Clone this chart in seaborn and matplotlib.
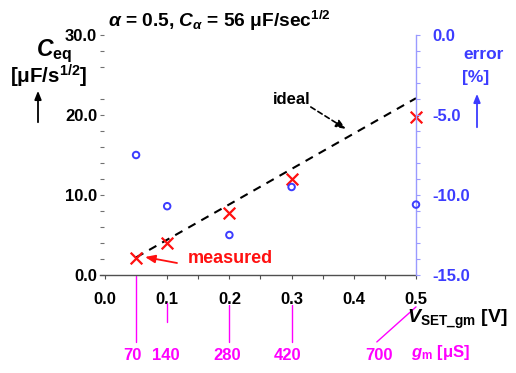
import matplotlib
matplotlib.use("Agg")
import matplotlib.pyplot as plt
import matplotlib.transforms as mtransforms
from matplotlib.ticker import FixedLocator, FixedFormatter
import pandas as pd
import seaborn as sns

# Operating points: SET voltage of the gm stage and resulting transconductance
v_set = [0.05, 0.1, 0.2, 0.3, 0.5]
gm_labels = ["70", "140", "280", "420", "700"]
# Measured equivalent fractional capacitance [uF/s^1/2]
ceq_measured = [2.1, 4.0, 7.7, 12.0, 19.7]
# Relative error of the measurement [%]
error_pct = [-7.5, -10.7, -12.5, -9.5, -10.6]
# Ideal (designed) characteristic
ideal_v = [0.05, 0.5]
ideal_ceq = [2.2, 22.1]

ceq_ticks = [0, 10, 20, 30]
error_ticks = [-15, -10, -5, 0]
v_ticks = [0.0, 0.1, 0.2, 0.3, 0.4, 0.5]

sns.set_theme(style="white")
plt.rcParams["font.family"] = ["Liberation Sans", "DejaVu Sans"]
plt.rcParams["font.weight"] = "bold"
plt.rcParams["mathtext.fontset"] = "custom"
plt.rcParams["mathtext.rm"] = "Liberation Sans:bold"
plt.rcParams["mathtext.bf"] = "Liberation Sans:bold"
plt.rcParams["mathtext.it"] = "Liberation Sans:bold:italic"
plt.rcParams["mathtext.sf"] = "Liberation Sans:bold"

W, H = 516, 373
BLUE = "#3c3cff"
LBLUE = "#9a9aff"
RED = "#ff1010"
MAG = "#ff00ff"

fig = plt.figure(figsize=(W / 100, H / 100), dpi=100)
ax = fig.add_axes([100 / W, 98 / H, 316 / W, 240 / H])
ax2 = ax.twinx()


def px(x, y):
    return x / W, 1 - y / H


meas = pd.DataFrame({"v": v_set, "ceq": ceq_measured, "err": error_pct})
ideal = pd.DataFrame({"v": ideal_v, "ceq": ideal_ceq})

sns.lineplot(data=ideal, x="v", y="ceq", ax=ax, color="black", lw=1.5,
             linestyle=(0, (4, 3.2)), zorder=2)
sns.scatterplot(data=meas, x="v", y="ceq", ax=ax, marker="x", s=70,
                color=RED, linewidth=1.6, zorder=3, clip_on=False)
sns.scatterplot(data=meas, x="v", y="err", ax=ax2, marker="o", s=22,
                facecolor="none", edgecolor=BLUE, linewidth=1.4, zorder=3,
                clip_on=False)

# Left axis (C_eq)
ax.set_xlim(-0.008, 0.5)
ax.set_ylim(0, 30)
for s in ("left", "top", "right"):
    ax.spines[s].set_visible(False)
ax.spines["bottom"].set_color("#505050")
ax.spines["bottom"].set_linewidth(1.0)
ax.yaxis.set_major_locator(FixedLocator(ceq_ticks))
ax.yaxis.set_major_formatter(FixedFormatter([f"{t:.1f}" for t in ceq_ticks]))
ax.yaxis.set_minor_locator(FixedLocator([2, 4, 6, 8, 12, 14, 16, 18, 22, 26, 28]))
ax.tick_params(axis="y", which="both", direction="in", length=3, width=0.8,
               color="#707070", left=True, labelsize=12, pad=2,
               labelcolor="black")
ax.xaxis.set_major_locator(FixedLocator(v_ticks))
ax.xaxis.set_major_formatter(FixedFormatter([f"{t:.1f}" for t in v_ticks]))
ax.xaxis.set_minor_locator(FixedLocator([0.15, 0.25, 0.35, 0.45]))
ax.tick_params(axis="x", which="both", direction="out", length=3, width=0.8,
               color="#505050", bottom=True, labelsize=12, pad=9,
               labelcolor="black")
ax.set_xlabel("")
ax.set_ylabel("")

# Right axis (error)
ax2.set_ylim(-15, 0)
for s in ("left", "top", "bottom"):
    ax2.spines[s].set_visible(False)
ax2.spines["right"].set_color(LBLUE)
ax2.spines["right"].set_linewidth(1.0)
ax2.yaxis.set_major_locator(FixedLocator(error_ticks))
ax2.yaxis.set_major_formatter(FixedFormatter([f"{t:.1f}" for t in error_ticks]))
ax2.yaxis.set_minor_locator(FixedLocator([t for t in range(-14, 0) if t % 5]))
ax2.tick_params(axis="y", which="both", direction="out", length=3, width=0.8,
                color=LBLUE, right=True, labelsize=12, pad=9,
                labelcolor=BLUE)
ax2.set_ylabel("")
for a in (ax, ax2):
    a.grid(False)
    legend = a.get_legend()
    if legend:
        legend.remove()

# Axis titles
fig.text(*px(36, 56), r"$C_{\mathrm{eq}}$", fontsize=16.5, color="black",
         ha="left", va="baseline")
fig.text(*px(49, 84), "[μF/s$^{1/2}$]", fontsize=14.8, color="black",
         ha="center", va="baseline")
fig.add_artist(matplotlib.patches.FancyArrowPatch(
    px(38, 125), px(38, 88), transform=fig.transFigure,
    arrowstyle="-|>,head_length=5,head_width=2", color="black", lw=1.3))

fig.text(*px(484, 59), "error", fontsize=12.5, color=BLUE, ha="center",
         va="baseline")
fig.text(*px(476, 82), "[%]", fontsize=12.5, color=BLUE, ha="center",
         va="baseline")
fig.add_artist(matplotlib.patches.FancyArrowPatch(
    px(477, 130), px(477, 91), transform=fig.transFigure,
    arrowstyle="-|>,head_length=5,head_width=2", color=BLUE, lw=1.3))

fig.text(*px(108, 27), r"$\alpha$ = 0.5, $C_{\alpha}$ = 56 μF/sec$^{1/2}$",
         fontsize=13.8, color="black", ha="left", va="baseline")

fig.text(*px(407, 323), r"$V_{\mathrm{SET\_gm}}$ [V]", fontsize=14,
         color="black", ha="left", va="baseline")

# Annotations
ax.annotate("ideal", xy=px(346, 129), xycoords="figure fraction",
            xytext=px(292, 104), textcoords="figure fraction",
            fontsize=12, ha="center", va="baseline", color="black",
            arrowprops=dict(arrowstyle="-|>,head_length=0.5,head_width=0.2",
                            color="black", lw=1.2, linestyle=(0, (3, 2)),
                            shrinkA=0, shrinkB=0, relpos=(1.0, 0.0),
                            patchA=None))
ax.annotate("", xy=px(145, 257), xycoords="figure fraction",
            xytext=px(177, 263), textcoords="figure fraction",
            arrowprops=dict(arrowstyle="-|>,head_length=0.5,head_width=0.2",
                            color=RED, lw=1.3, shrinkA=0, shrinkB=0))
fig.text(*px(188, 263), "measured", fontsize=13, color=RED, ha="left",
         va="baseline")

# gm scale below the voltage axis
blend = mtransforms.blended_transform_factory(ax.transData, ax.transAxes)
gm_line_top = [-0.004, -0.117, -0.125, -0.125, -0.133]
gm_line_bot = [-0.279, -0.196, -0.279, -0.279, -0.279]
gm_line_bot_x = [0.05, 0.1, 0.2, 0.3, 0.437]
gm_text_x = [0.044, 0.098, 0.196, 0.294, 0.44]
for v, yt, yb, xb, tx, lab in zip(v_set, gm_line_top, gm_line_bot,
                                  gm_line_bot_x, gm_text_x, gm_labels):
    ax.plot([v, xb], [yt, yb], transform=blend, color=MAG, lw=1.0,
            clip_on=False)
    ax.text(tx, -0.355, lab, transform=blend, fontsize=12, color=MAG,
            ha="center", va="baseline")
fig.text(*px(411, 357), r"$g_{\mathrm{m}}$ [μS]", fontsize=12, color=MAG,
         ha="left", va="baseline")

fig.savefig("out.png", dpi=100)
